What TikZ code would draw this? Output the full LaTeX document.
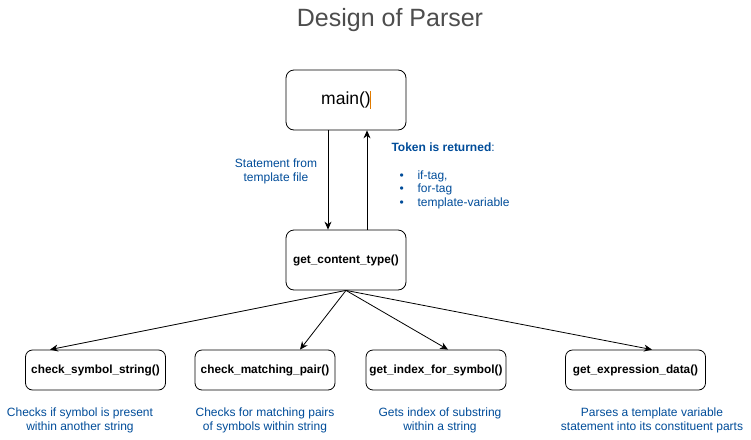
\documentclass[tikz,border=0pt]{standalone}
\usepackage{fontspec}
\setmainfont{Liberation Sans}
\usepackage{tikz}
\usetikzlibrary{calc, positioning, arrows.meta}
\definecolor{capblue}{HTML}{004C99}
\definecolor{titlegray}{HTML}{4D4D4D}
\definecolor{cursor}{HTML}{E07B00}
\tikzstyle{funcmain}=[shape=rectangle, rounded corners=8pt, draw=black, line width=0.8pt, fill=white, minimum width=120pt, minimum height=60pt, font=\fontsize{17.5}{20}\selectfont]
\tikzstyle{funcmid}=[shape=rectangle, rounded corners=8pt, draw=black, line width=0.8pt, fill=white, minimum width=120pt, minimum height=60pt, font=\bfseries\fontsize{11.8}{14}\selectfont]
\tikzstyle{funcsub}=[shape=rectangle, rounded corners=7pt, draw=black, line width=0.8pt, fill=white, minimum width=140pt, minimum height=40pt, font=\bfseries\fontsize{11.8}{14}\selectfont]
\tikzstyle{capt}=[text=capblue, align=center, font=\fontsize{12}{14}\selectfont]
\tikzstyle{flow}=[line width=0.8pt, -{Stealth[length=8pt,width=7pt]}]

\begin{document}
\begin{tikzpicture}[x=1pt,y=-1pt]
\useasboundingbox (0,0) rectangle (751,439);
\node[text=titlegray, font=\fontsize{25}{28}\selectfont] (title) at (390,20) {Design of Parser};
\node[funcmain] (main) at (346,100) {main()};
\draw[cursor, line width=0.8pt] ($(main.center)+(24,-9)$) -- ++(0,18);
\node[funcmid] (ct) at (346,260) {get\_content\_type()};
%main <-> get_content_type
\draw[flow] ($(main.south)+(-18,0)$) -- ($(ct.north)+(-18,0)$);
\draw[flow] ($(ct.north)+(21,0)$) -- ($(main.south)+(21,0)$);
\node[capt] (stmt) at (276,171) {Statement from\\template file};
\node[text=capblue, anchor=west, font=\fontsize{12}{14}\selectfont] (tok) at (388,147) {\textbf{Token is returned}:};
\node[text=capblue, anchor=north west, align=left, font=\fontsize{12}{13.5}\selectfont] (toklist) at (396,167)
  {\makebox[18pt][l]{\textbullet}if-tag,\\ \makebox[18pt][l]{\textbullet}for-tag\\ \makebox[18pt][l]{\textbullet}template-variable};
%sub functions
\foreach \n/\x/\dx/\cx/\t/\ca/\cb in {
  sym/95.5/-45.5/80/check\_symbol\_string()/Checks if symbol is present/within another string,
  mp/265/35/265/check\_matching\_pair()/Checks for matching pairs/of symbols within string,
  idx/436/12/440/get\_index\_for\_symbol()/Gets index of substring/within a string,
  exp/635.5/16.5/652/get\_expression\_data()/Parses a template variable/statement into its constituent parts}{
  \node[funcsub] (\n) at (\x,370) {\t};
  \node[capt] (\n cap) at (\cx,420) {\ca\\\cb};
  \draw[flow] (ct.south) -- ($(\n.north)+(\dx,0)$);
}
\end{tikzpicture}
\end{document}
